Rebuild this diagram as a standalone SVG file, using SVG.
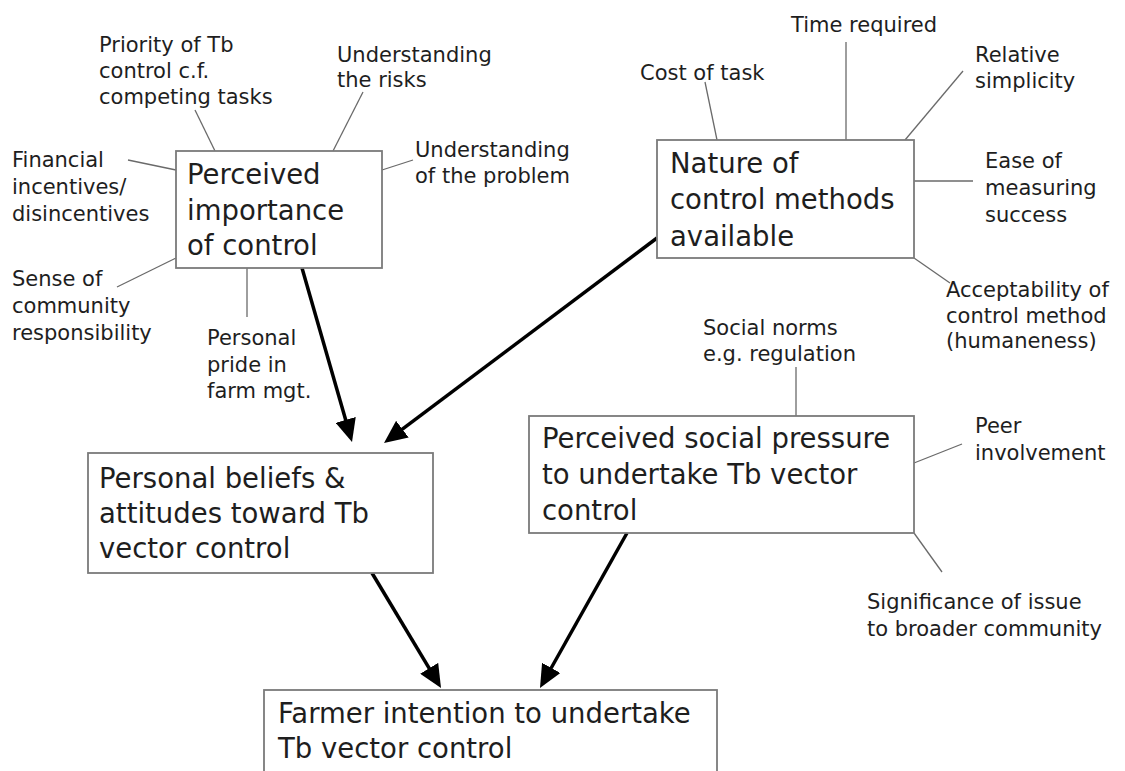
<svg xmlns="http://www.w3.org/2000/svg" width="1125" height="771" viewBox="0 0 1125 771">
<style>
.box{fill:#fff;stroke:#7a7a7a;stroke-width:1.8}
.big{font-family:"DejaVu Sans","Liberation Sans",sans-serif;font-size:27.5px;fill:#1e1e1e}
.small{font-family:"DejaVu Sans","Liberation Sans",sans-serif;font-size:21px;fill:#1e1e1e}
.thin{stroke:#6a6a6a;stroke-width:1.3;fill:none}
.arrow{stroke:#000;stroke-width:3.5;fill:none;marker-end:url(#ah)}
</style>
<defs>
<marker id="ah" markerUnits="userSpaceOnUse" markerWidth="23" markerHeight="21" refX="15" refY="10.5" orient="auto">
<path d="M0,0 L23,10.5 L0,21 Z" fill="#000"/>
</marker>
</defs>
<rect width="1125" height="771" fill="#fff"/>

<g id="connectors">
<line class="thin" x1="195" y1="110" x2="215" y2="151"/>
<line class="thin" x1="363" y1="92" x2="333" y2="151"/>
<line class="thin" x1="128" y1="160" x2="176" y2="170"/>
<line class="thin" x1="117" y1="287" x2="176" y2="258"/>
<line class="thin" x1="247" y1="268" x2="247" y2="317"/>
<line class="thin" x1="382" y1="170" x2="413" y2="160"/>
<line class="thin" x1="705" y1="82" x2="717" y2="140"/>
<line class="thin" x1="846" y1="42" x2="846" y2="140"/>
<line class="thin" x1="963" y1="71" x2="905" y2="140"/>
<line class="thin" x1="914" y1="181" x2="973" y2="181"/>
<line class="thin" x1="914" y1="258" x2="950" y2="283"/>
<line class="thin" x1="796" y1="367" x2="796" y2="416"/>
<line class="thin" x1="914" y1="463" x2="962" y2="444"/>
<line class="thin" x1="914" y1="533" x2="942" y2="572"/>
<line class="arrow" x1="302" y1="268" x2="349.8" y2="434.3"/>
<line class="arrow" x1="657" y1="238" x2="390.4" y2="438.2"/>
<line class="arrow" x1="372" y1="573" x2="436.9" y2="681.1"/>
<line class="arrow" x1="627" y1="533" x2="543.9" y2="681"/>
</g>

<g id="nodeA">
<rect class="box" x="176" y="151" width="206" height="117"/>
<text class="big"><tspan x="187" y="184">Perceived</tspan><tspan x="187" y="220">importance</tspan><tspan x="187" y="255">of control</tspan></text>
</g>
<g id="nodeB">
<rect class="box" x="657" y="140" width="257" height="118"/>
<text class="big"><tspan x="670" y="173">Nature of</tspan><tspan x="670" y="209">control methods</tspan><tspan x="670" y="246">available</tspan></text>
</g>
<g id="nodeC">
<rect class="box" x="88" y="453" width="345" height="120"/>
<text class="big"><tspan x="99" y="488">Personal beliefs &amp;</tspan><tspan x="99" y="523">attitudes toward Tb</tspan><tspan x="99" y="558">vector control</tspan></text>
</g>
<g id="nodeD">
<rect class="box" x="529" y="416" width="385" height="117"/>
<text class="big"><tspan x="542" y="448">Perceived social pressure</tspan><tspan x="542" y="484">to undertake Tb vector</tspan><tspan x="542" y="520">control</tspan></text>
</g>
<g id="nodeE">
<rect class="box" x="264" y="690" width="453" height="110"/>
<text class="big"><tspan x="278" y="723">Farmer intention to undertake</tspan><tspan x="278" y="758">Tb vector control</tspan></text>
</g>

<g id="label-priority"><text class="small"><tspan x="99" y="52">Priority of Tb</tspan><tspan x="99" y="78">control c.f.</tspan><tspan x="99" y="104">competing tasks</tspan></text></g>
<g id="label-risks"><text class="small"><tspan x="337" y="62">Understanding</tspan><tspan x="337" y="87">the risks</tspan></text></g>
<g id="label-problem"><text class="small"><tspan x="415" y="157">Understanding</tspan><tspan x="415" y="183">of the problem</tspan></text></g>
<g id="label-financial"><text class="small"><tspan x="12" y="167">Financial</tspan><tspan x="12" y="194">incentives/</tspan><tspan x="12" y="221">disincentives</tspan></text></g>
<g id="label-community"><text class="small"><tspan x="12" y="286">Sense of</tspan><tspan x="12" y="313">community</tspan><tspan x="12" y="340">responsibility</tspan></text></g>
<g id="label-pride"><text class="small"><tspan x="207" y="345">Personal</tspan><tspan x="207" y="372">pride in</tspan><tspan x="207" y="398">farm mgt.</tspan></text></g>
<g id="label-cost"><text class="small"><tspan x="640" y="80">Cost of task</tspan></text></g>
<g id="label-time"><text class="small"><tspan x="791" y="32">Time required</tspan></text></g>
<g id="label-simplicity"><text class="small"><tspan x="975" y="62">Relative</tspan><tspan x="975" y="88">simplicity</tspan></text></g>
<g id="label-ease"><text class="small"><tspan x="985" y="168">Ease of</tspan><tspan x="985" y="195">measuring</tspan><tspan x="985" y="222">success</tspan></text></g>
<g id="label-accept"><text class="small"><tspan x="946" y="297">Acceptability of</tspan><tspan x="946" y="323">control method</tspan><tspan x="946" y="348">(humaneness)</tspan></text></g>
<g id="label-norms"><text class="small"><tspan x="703" y="335">Social norms</tspan><tspan x="703" y="361">e.g. regulation</tspan></text></g>
<g id="label-peer"><text class="small"><tspan x="975" y="433">Peer</tspan><tspan x="975" y="460">involvement</tspan></text></g>
<g id="label-significance"><text class="small"><tspan x="867" y="609">Significance of issue</tspan><tspan x="867" y="636">to broader community</tspan></text></g>
</svg>
